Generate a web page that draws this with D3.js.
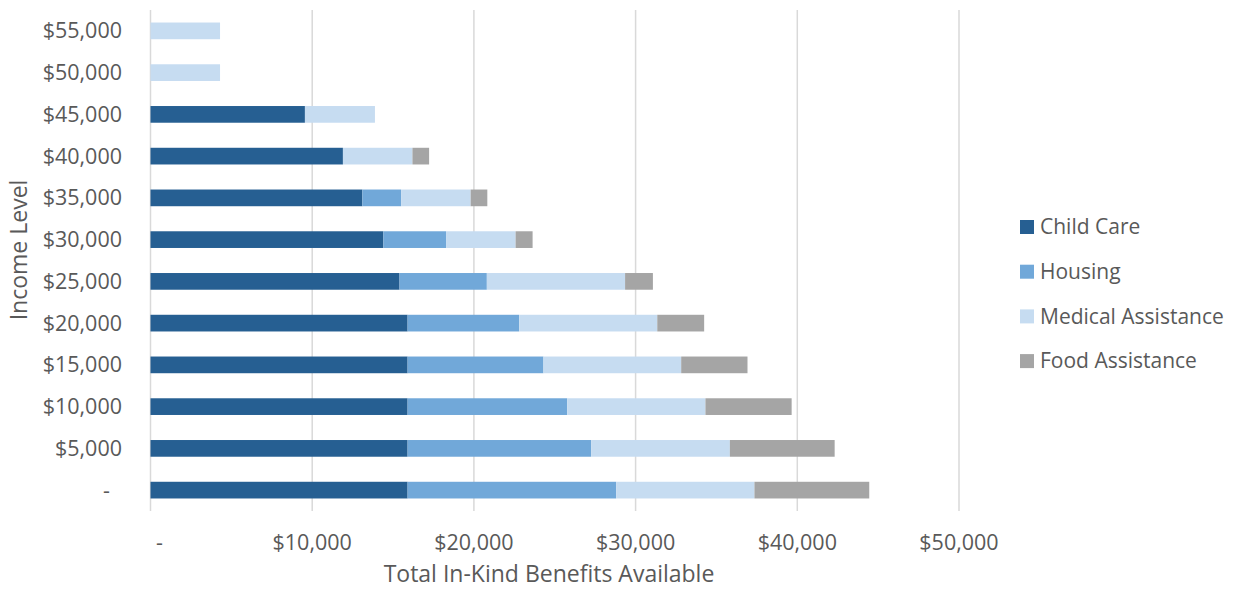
<!DOCTYPE html>
<html>
<head>
<meta charset="utf-8">
<script src="https://cdn.jsdelivr.net/npm/d3@7"></script>
<style>
  body { margin: 0; background: #fff; }
  text { font-family: "Open Sans", sans-serif; fill: #595959; }
</style>
</head>
<body>
<div id="chart"></div>
<script>
"use strict";

// income levels, bottom to top
var incomeLevels = ["-", "$5,000", "$10,000", "$15,000", "$20,000", "$25,000",
  "$30,000", "$35,000", "$40,000", "$45,000", "$50,000", "$55,000"];

var seriesNames = ["Child Care", "Housing", "Medical Assistance", "Food Assistance"];
var seriesColors = ["#265F92", "#71A8D9", "#C6DCF1", "#A5A5A5"];

// values (dollars)
var childCare = [15900, 15900, 15900, 15900, 15900, 15400, 14400, 13100, 11900, 9550, 0, 0];
var housing   = [12900, 11350, 9870, 8400, 6900, 5400, 3880, 2400, 0, 0, 0, 0];
var medical   = [8550, 8580, 8550, 8520, 8540, 8550, 4300, 4300, 4300, 4330, 4300, 4300];
var food      = [7100, 6480, 5330, 4100, 2900, 1720, 1050, 1030, 1030, 0, 0, 0];

var xTicks = [0, 10000, 20000, 30000, 40000, 50000];

var width = 1233, height = 590;

var rows = incomeLevels.map(function(lvl, i) {
  return { level: lvl, "Child Care": childCare[i], "Housing": housing[i],
    "Medical Assistance": medical[i], "Food Assistance": food[i] };
});

var stacked = d3.stack().keys(seriesNames)(rows);

var svg = d3.select("#chart").append("svg")
  .attr("width", width).attr("height", height);

var x = d3.scaleLinear().domain([0, 50000]).range([150.5, 959]);
var y = d3.scaleBand().domain(incomeLevels).range([511, 10])
  .paddingInner(0.6).paddingOuter(0.3);

// gridlines
svg.append("g").selectAll("line")
  .data(xTicks)
  .enter().append("line")
  .attr("x1", function(d) { return x(d); })
  .attr("x2", function(d) { return x(d); })
  .attr("y1", 10).attr("y2", 511)
  .attr("stroke", "#D9D9D9").attr("stroke-width", 1.5);

// bars
svg.append("g").selectAll("g")
  .data(stacked)
  .enter().append("g")
  .attr("fill", function(d, i) { return seriesColors[i]; })
  .selectAll("rect")
  .data(function(d) { return d; })
  .enter().append("rect")
  .attr("x", function(d) { return x(d[0]); })
  .attr("width", function(d) { return x(d[1]) - x(d[0]); })
  .attr("y", function(d) { return y(d.data.level); })
  .attr("height", y.bandwidth());

// x tick labels
var fmt = function(d) { return d === 0 ? "-" : "$" + d3.format(",")(d); };
svg.append("g").selectAll("text")
  .data(xTicks)
  .enter().append("text")
  .attr("x", function(d) { return d === 0 ? x(d) + 9 : x(d); })
  .attr("y", 550)
  .attr("text-anchor", "middle")
  .style("font-size", "21.5px")
  .text(fmt);

// y tick labels
svg.append("g").selectAll("text")
  .data(incomeLevels)
  .enter().append("text")
  .attr("x", function(d) { return d === "-" ? 110 : 122; })
  .attr("y", function(d) { return y(d) + y.bandwidth() / 2; })
  .attr("dy", "0.35em")
  .attr("text-anchor", "end")
  .style("font-size", "21.5px")
  .text(function(d) { return d; });

// axis titles
svg.append("text")
  .attr("x", 549).attr("y", 582)
  .attr("text-anchor", "middle")
  .style("font-size", "23px")
  .text("Total In-Kind Benefits Available");

svg.append("text")
  .attr("transform", "translate(27,250) rotate(-90)")
  .attr("text-anchor", "middle")
  .style("font-size", "23px")
  .text("Income Level");

// legend
var legend = svg.append("g").selectAll("g")
  .data(seriesNames)
  .enter().append("g")
  .attr("transform", function(d, i) { return "translate(1020," + (227 + i * 44.7) + ")"; });

legend.append("rect")
  .attr("x", 0).attr("y", -7).attr("width", 14).attr("height", 14)
  .attr("fill", function(d, i) { return seriesColors[i]; });

legend.append("text")
  .attr("x", 20).attr("y", 0).attr("dy", "0.35em")
  .style("font-size", "21px")
  .text(function(d) { return d; });
</script>
</body>
</html>
